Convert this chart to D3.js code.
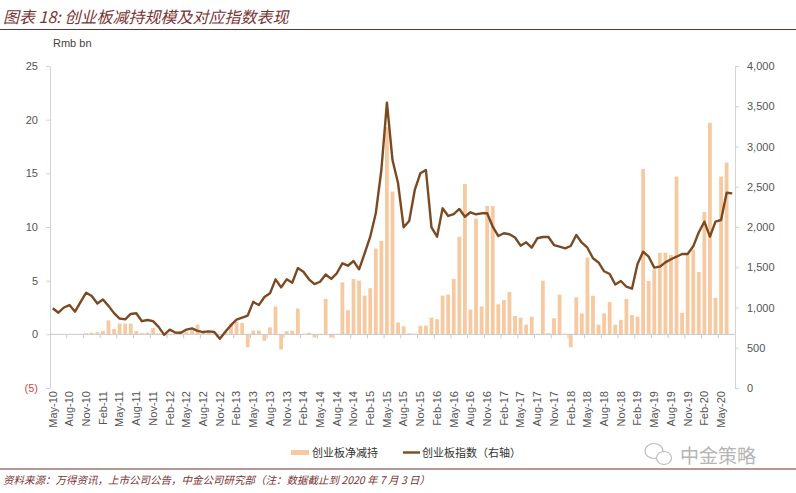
<!DOCTYPE html>
<html>
<head>
<meta charset="utf-8">
<script src="https://cdn.jsdelivr.net/npm/d3@7"></script>
<style>
  body { margin: 0; background: #fff; }
  svg { display: block; }
</style>
</head>
<body>
<svg id="chart" width="796" height="493"></svg>
<script>
// Monthly categories, May-10 .. Jul-20.
const months = d3.timeMonth.range(new Date(2010, 4, 1), new Date(2020, 7, 1))
    .map(d3.timeFormat("%b-%y"));

// Net reduction of ChiNext holdings (Rmb bn), left axis.
const netReduction = [
    0, 0, 0, 0, 0, 0, 0.1, 0.15, 0.2, 0.3,
    1.3, 0.5, 1.0, 1.0, 1.0, 0.3, 0.1, 0.15, 0.6, 0.1,
    0, 0.05, 0.2, 0.3, 0.2, 0.4, 0.9, 0.3, 0.2, 0.1,
    0, 0.3, 1.0, 1.15, 1.05, -1.2, 0.35, 0.35, -0.6, 0.65,
    2.6, -1.4, 0.3, 0.35, 2.4, 0.05, 0.15, -0.3, 0.05, 3.3,
    -0.3, 0.05, 4.85, 2.25, 5.15, 5.0, 3.6, 4.3, 8.0, 8.7,
    19.3, 13.3, 1.1, 0.75, 0.1, 0.05, 0.8, 0.8, 1.55, 1.4,
    3.6, 3.7, 5.15, 9.1, 14.0, 2.3, 10.8, 2.6, 11.95, 11.95,
    2.8, 3.2, 3.95, 1.7, 1.55, 0.9, 1.65, 0.05, 5.0, 0.1,
    1.5, 3.7, 0.05, -1.2, 3.45, 1.95, 7.15, 3.6, 0.9, 1.95,
    3.0, 0.9, 1.35, 3.3, 1.8, 1.65, 15.4, 4.97, 6.06, 7.6,
    7.6, 7.4, 14.7, 2.0, 7.45, 7.9, 5.8, 11.4, 19.7, 3.4,
    14.7, 16.0, 0
];

// ChiNext index level, right axis.
const chinextIndex = [
    990, 935, 1000, 1030, 948, 1070, 1184, 1143, 1050, 1100,
    1020, 930, 863, 853, 920, 928, 830, 845, 830, 760,
    660, 725, 690, 687, 725, 740, 710, 695, 704, 695,
    612, 700, 780, 850, 875, 900, 1070, 1030, 1130, 1176,
    1350, 1250, 1350, 1308, 1490, 1445, 1350, 1290, 1320, 1410,
    1355, 1425, 1549, 1519, 1578, 1474, 1673, 1880, 2170, 2708,
    3544, 2832, 2543, 1996, 2075, 2460, 2667, 2708, 1996, 1880,
    2232, 2137, 2161, 2224, 2128, 2183, 2158, 2170, 2170, 2004,
    1888, 1922, 1910, 1870, 1768, 1810, 1743, 1860, 1876, 1876,
    1776, 1755, 1735, 1764, 1900, 1805, 1743, 1611, 1560, 1450,
    1416, 1285, 1329, 1258, 1233, 1540, 1693, 1631, 1495, 1507,
    1560, 1599, 1631, 1665, 1665, 1760, 1934, 2066, 1880, 2066,
    2087, 2426, 2418
];

const leftTicks = [-5, 0, 5, 10, 15, 20, 25];
const rightTicks = [0, 500, 1000, 1500, 2000, 2500, 3000, 3500, 4000];
const legendLabels = ["创业板净减持", "创业板指数（右轴）"];

// Display parameters.
let barColour = "#f7c9a0";
let lineColour = "#7b4a22";
let axisColour = "#d4d4d4";
let labelColour = "#555";
let titleColour = "#7a3434";
let latin = "'Liberation Sans', Arial, sans-serif";
let cjk = "'Noto Sans CJK SC', sans-serif";

let svg = d3.select("#chart");

// Header.
svg.append("text")
    .attr("x", 3)
    .attr("y", 23)
    .attr("font-family", cjk)
    .attr("font-size", 16)
    .attr("font-style", "italic")
    .attr("fill", titleColour)
    .text("图表 18: 创业板减持规模及对应指数表现");

svg.append("line")
    .attr("x1", 0).attr("x2", 796)
    .attr("y1", 29.5).attr("y2", 29.5)
    .attr("stroke", "#6d2f2f")
    .attr("stroke-width", 1.2);

svg.append("text")
    .attr("x", 53)
    .attr("y", 47)
    .attr("font-family", latin)
    .attr("font-size", 11)
    .attr("fill", "#444")
    .text("Rmb bn");

// Scales.
let x = d3.scaleBand()
    .domain(months)
    .range([50, 735])
    .paddingInner(0.32)
    .paddingOuter(0.16);

let yL = d3.scaleLinear().domain([-5, 25]).range([388, 66]);
let yR = d3.scaleLinear().domain([0, 4000]).range([388, 66]);

// Left axis.
let leftAxis = svg.append("g")
    .attr("transform", "translate(50,0)")
    .call(d3.axisLeft(yL)
        .tickValues(leftTicks)
        .tickSize(4)
        .tickSizeOuter(0)
        .tickPadding(8)
        .tickFormat(d => d < 0 ? `(${-d})` : d));

leftAxis.selectAll("path, line").attr("stroke", axisColour);
leftAxis.selectAll("text")
    .attr("font-family", latin)
    .attr("font-size", 11)
    .attr("fill", d => d < 0 ? "#c0504d" : labelColour);

// Right axis.
let rightAxis = svg.append("g")
    .attr("transform", "translate(735,0)")
    .call(d3.axisRight(yR)
        .tickValues(rightTicks)
        .tickSize(4)
        .tickSizeOuter(0)
        .tickPadding(8)
        .tickFormat(d3.format(",")));

rightAxis.selectAll("path, line").attr("stroke", axisColour);
rightAxis.selectAll("text")
    .attr("font-family", latin)
    .attr("font-size", 11)
    .attr("fill", labelColour);

// Bars.
svg.append("g")
    .selectAll("rect")
    .data(netReduction)
    .enter()
    .append("rect")
    .attr("x", (d, i) => x(months[i]))
    .attr("width", x.bandwidth())
    .attr("y", d => yL(Math.max(0, d)))
    .attr("height", d => Math.abs(yL(d) - yL(0)))
    .attr("fill", barColour);

// Zero line with quarterly ticks at band boundaries.
let y0 = yL(0);
let gap = (x.step() - x.bandwidth()) / 2;
svg.append("line")
    .attr("x1", 50).attr("x2", 735)
    .attr("y1", y0).attr("y2", y0)
    .attr("stroke", "#c8c8c8");

svg.append("g")
    .selectAll("line")
    .data(d3.range(3, months.length, 3))
    .enter()
    .append("line")
    .attr("x1", i => x(months[i]) - gap)
    .attr("x2", i => x(months[i]) - gap)
    .attr("y1", y0)
    .attr("y2", y0 + 4)
    .attr("stroke", "#c8c8c8");

// Index line.
let line = d3.line()
    .x((d, i) => x(months[i]) + x.bandwidth() / 2)
    .y(d => yR(d));

svg.append("path")
    .datum(chinextIndex)
    .attr("d", line)
    .attr("fill", "none")
    .attr("stroke", lineColour)
    .attr("stroke-width", 2.4)
    .attr("stroke-linejoin", "round");

// Month labels, every third month.
svg.append("g")
    .selectAll("text")
    .data(d3.range(0, months.length, 3))
    .enter()
    .append("text")
    .attr("transform", i => `translate(${x(months[i]) + x.bandwidth() / 2},391) rotate(-90)`)
    .attr("text-anchor", "end")
    .attr("dy", "0.35em")
    .attr("font-family", latin)
    .attr("font-size", 11)
    .attr("fill", labelColour)
    .text(i => months[i]);

// Legend.
let legend = svg.append("g");
legend.append("rect")
    .attr("x", 291).attr("y", 450)
    .attr("width", 18).attr("height", 5)
    .attr("fill", barColour);
legend.append("text")
    .attr("x", 312).attr("y", 456.5)
    .attr("font-family", cjk)
    .attr("font-size", 11)
    .attr("fill", "#333")
    .text(legendLabels[0]);
legend.append("line")
    .attr("x1", 403).attr("x2", 420)
    .attr("y1", 452.5).attr("y2", 452.5)
    .attr("stroke", lineColour)
    .attr("stroke-width", 2.4);
legend.append("text")
    .attr("x", 422).attr("y", 456.5)
    .attr("font-family", cjk)
    .attr("font-size", 11)
    .attr("fill", "#333")
    .text(legendLabels[1]);

// Watermark.
let mark = svg.append("g")
    .attr("fill", "none")
    .attr("stroke", "#bdbdbd")
    .attr("stroke-width", 1.2);
mark.append("ellipse")
    .attr("cx", 654).attr("cy", 451).attr("rx", 9).attr("ry", 7.5);
mark.append("ellipse")
    .attr("cx", 664).attr("cy", 458).attr("rx", 7.5).attr("ry", 6.5)
    .attr("fill", "#fff");
svg.append("text")
    .attr("x", 680).attr("y", 463)
    .attr("font-family", cjk)
    .attr("font-size", 19)
    .attr("fill", "#b5b5b5")
    .text("中金策略");

// Footer.
svg.append("line")
    .attr("x1", 0).attr("x2", 796)
    .attr("y1", 469).attr("y2", 469)
    .attr("stroke", "#6d2f2f")
    .attr("stroke-width", 1.2);

svg.append("text")
    .attr("x", 3)
    .attr("y", 484)
    .attr("font-family", cjk)
    .attr("font-size", 10.5)
    .attr("font-style", "italic")
    .attr("fill", titleColour)
    .text("资料来源：万得资讯，上市公司公告，中金公司研究部（注：数据截止到 2020 年 7 月 3 日）");
</script>
</body>
</html>
